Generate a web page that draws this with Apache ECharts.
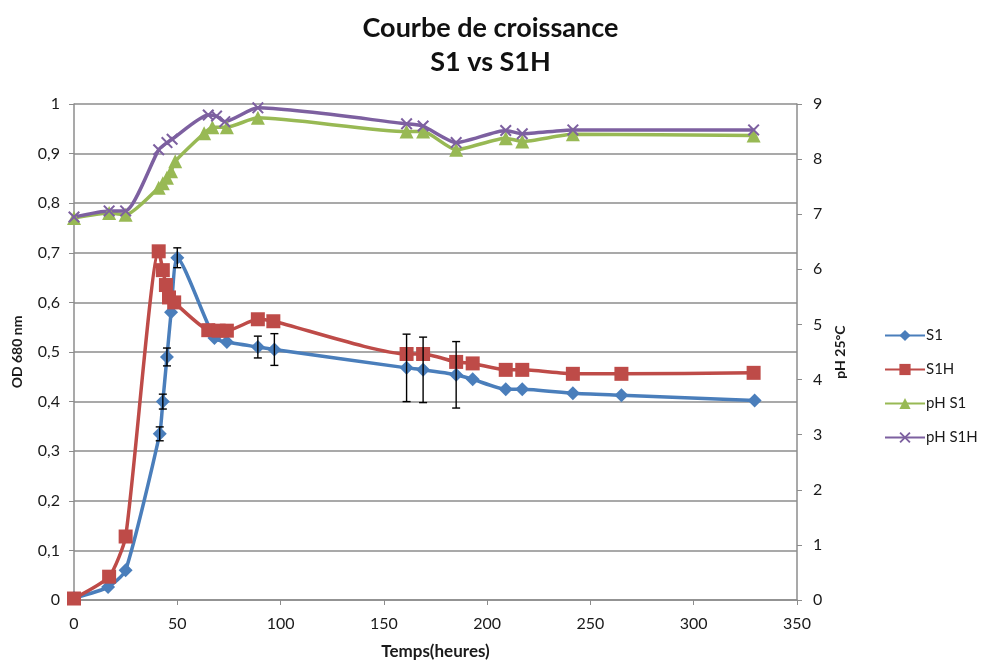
<!DOCTYPE html>
<html>
<head>
<meta charset="utf-8">
<script src="https://cdn.jsdelivr.net/npm/echarts@6/dist/echarts.min.js"></script>
<style>
  html, body { margin: 0; padding: 0; background: #fff; }
  #chart { width: 981px; height: 660px; }
</style>
</head>
<body>
<div id="chart"></div>
<script>
// Growth curve: optical density (left axis) and pH (right axis) versus time
const s1Hours  = [0, 16.5, 25, 41.5, 43, 45, 47, 50, 68, 74, 89, 97, 161, 169, 185, 193, 209, 217, 241.5, 265, 329.5];
const s1OD     = [0.004, 0.026, 0.06, 0.335, 0.40, 0.49, 0.58, 0.69, 0.528, 0.52, 0.51, 0.505, 0.468, 0.464, 0.454, 0.445, 0.425, 0.425, 0.417, 0.413, 0.402];
const s1Err    = [0, 0, 0, 0.014, 0.015, 0.018, 0, 0.02, 0, 0, 0.022, 0.032, 0.068, 0.066, 0.067, 0, 0, 0, 0, 0, 0];

const s1hHours = [0, 17, 25, 41, 43, 44.5, 46, 48.5, 65, 70, 74, 89, 96.5, 161, 169, 185, 193, 209, 217, 241.5, 265, 329];
const s1hOD    = [0.003, 0.047, 0.128, 0.703, 0.665, 0.635, 0.61, 0.60, 0.544, 0.543, 0.543, 0.566, 0.562, 0.496, 0.496, 0.48, 0.477, 0.464, 0.464, 0.456, 0.456, 0.458];

const phS1Hours = [0, 17, 25, 41, 43, 45, 47, 49, 63, 67, 74, 89, 161, 169, 185, 209, 217, 241.5, 329];
const phS1      = [6.93, 7.02, 6.99, 7.48, 7.56, 7.66, 7.78, 7.96, 8.47, 8.58, 8.58, 8.75, 8.5, 8.5, 8.17, 8.38, 8.32, 8.45, 8.43];

const phS1HHours = [0, 17, 25, 41, 45, 47.5, 65, 69, 73, 89, 161, 169, 185, 209, 217, 241.5, 329];
const phS1H      = [6.95, 7.06, 7.06, 8.17, 8.3, 8.36, 8.8, 8.78, 8.68, 8.93, 8.64, 8.6, 8.3, 8.52, 8.46, 8.53, 8.53];

const xTicks = { min: 0, max: 350, step: 50 };
const odTicks = { min: 0, max: 1, step: 0.1 };
const phTicks = { min: 0, max: 9, step: 1 };

const COLORS = { s1: '#4a7ebb', s1h: '#be4b48', phS1: '#98b954', phS1H: '#7d60a0' };
const FONT = 'Lato, "Open Sans", sans-serif';
const TEXT = '#1a1a1a';
const GRID_GRAY = '#8c8c8c';
const CROSS = 'path://M0,1.2L1.2,0L5,3.8L8.8,0L10,1.2L6.2,5L10,8.8L8.8,10L5,6.2L1.2,10L0,8.8L3.8,5Z';

const zip = (xs, ys) => xs.map((x, i) => [x, ys[i]]);
const errData = s1Hours.map((x, i) => [x, s1OD[i], s1Err[i]]).filter(d => d[2] > 0);

function lineSeries(name, data, color, symbol, size, yAxisIndex) {
  return {
    name, type: 'line', data, yAxisIndex,
    smooth: 0.2,
    symbol, symbolSize: size,
    lineStyle: { color, width: 3.5 },
    itemStyle: { color, borderColor: color, borderWidth: 0 },
    emphasis: { disabled: true },
    z: 3
  };
}

const chart = echarts.init(document.getElementById('chart'), null, { renderer: 'canvas' });
chart.setOption({
  backgroundColor: '#ffffff',
  animation: false,
  title: {
    text: 'Courbe de croissance\nS1 vs S1H',
    left: 'center', top: 6,
    textStyle: { fontFamily: FONT, fontSize: 27, fontWeight: 'bold', color: '#111', lineHeight: 34 }
  },
  grid: { left: 74, right: 184, top: 104, bottom: 60, containLabel: false, outerBoundsMode: 'none' },
  legend: {
    orient: 'vertical', left: 879, top: 323,
    itemWidth: 40, itemHeight: 14, itemGap: 19,
    textStyle: { fontFamily: FONT, fontSize: 15, color: TEXT, lineHeight: 14, padding: [0, 0, 0, -4] },
    data: ['S1', 'S1H', 'pH S1', 'pH S1H']
  },
  xAxis: {
    type: 'value', min: xTicks.min, max: xTicks.max, interval: xTicks.step,
    name: 'Temps(heures)', nameLocation: 'middle', nameGap: 43,
    nameTextStyle: { fontFamily: FONT, fontSize: 17, fontWeight: 'bold', color: TEXT },
    axisLine: { onZero: false, lineStyle: { color: GRID_GRAY, width: 1.5 } },
    axisTick: { show: true, length: 5, lineStyle: { color: GRID_GRAY } },
    axisLabel: { fontFamily: FONT, fontSize: 16, color: TEXT, margin: 16 },
    splitLine: { show: false }
  },
  yAxis: [
    {
      type: 'value', min: odTicks.min, max: odTicks.max, interval: odTicks.step,
      name: 'OD 680 nm', nameLocation: 'middle', nameGap: 50, nameRotate: 90,
      nameTextStyle: { fontFamily: FONT, fontSize: 14, fontWeight: 'bold', color: TEXT },
      axisLine: { show: true, lineStyle: { color: GRID_GRAY, width: 1.5 } },
      axisTick: { show: true, length: 5, lineStyle: { color: GRID_GRAY } },
      axisLabel: {
        fontFamily: FONT, fontSize: 16, color: TEXT, margin: 14,
        formatter: v => String(Math.round(v * 10) / 10).replace('.', ',')
      },
      splitLine: { show: true, lineStyle: { color: GRID_GRAY, width: 1.5 } }
    },
    {
      type: 'value', min: phTicks.min, max: phTicks.max, interval: phTicks.step,
      name: 'pH 25°C', nameLocation: 'middle', nameGap: 36, nameRotate: 90,
      nameTextStyle: { fontFamily: FONT, fontSize: 14, fontWeight: 'bold', color: TEXT },
      position: 'right',
      axisLine: { show: true, lineStyle: { color: GRID_GRAY, width: 1.5 } },
      axisTick: { show: true, length: 5, lineStyle: { color: GRID_GRAY } },
      axisLabel: { fontFamily: FONT, fontSize: 16, color: TEXT, margin: 16 },
      splitLine: { show: false }
    }
  ],
  series: [
    lineSeries('S1', zip(s1Hours, s1OD), COLORS.s1, 'diamond', 14, 0),
    lineSeries('S1H', zip(s1hHours, s1hOD), COLORS.s1h, 'rect', 14, 0),
    lineSeries('pH S1', zip(phS1Hours, phS1), COLORS.phS1, 'triangle', 14, 1),
    lineSeries('pH S1H', zip(phS1HHours, phS1H), COLORS.phS1H, CROSS, 12, 1),
    {
      name: 'S1 error', type: 'custom', yAxisIndex: 0, z: 5,
      data: errData,
      renderItem: (params, api) => {
        const x = api.value(0), y = api.value(1), e = api.value(2);
        const top = api.coord([x, y + e]);
        const bot = api.coord([x, y - e]);
        const cap = 4;
        const style = { stroke: '#000', lineWidth: 1.4 };
        return {
          type: 'group',
          children: [
            { type: 'line', shape: { x1: top[0], y1: top[1], x2: bot[0], y2: bot[1] }, style },
            { type: 'line', shape: { x1: top[0] - cap, y1: top[1], x2: top[0] + cap, y2: top[1] }, style },
            { type: 'line', shape: { x1: bot[0] - cap, y1: bot[1], x2: bot[0] + cap, y2: bot[1] }, style }
          ]
        };
      }
    }
  ]
});
</script>
</body>
</html>
